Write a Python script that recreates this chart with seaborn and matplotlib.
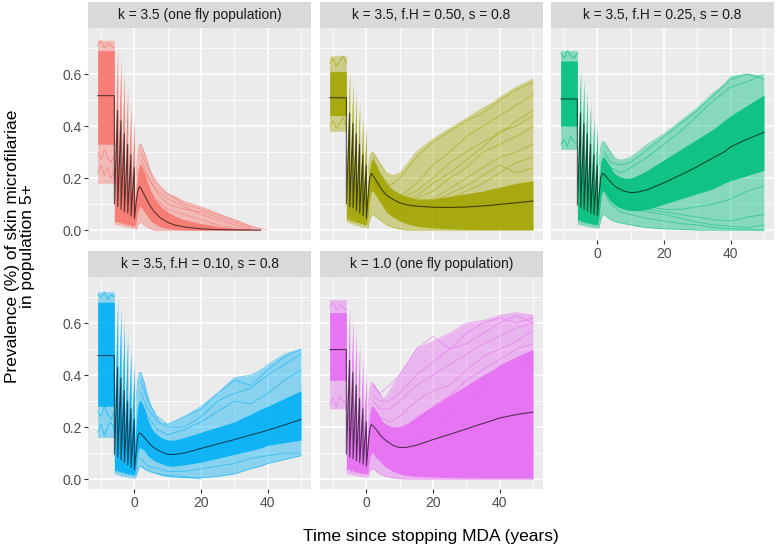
import numpy as np
import pandas as pd
import matplotlib
matplotlib.use("Agg")
import matplotlib.pyplot as plt
import seaborn as sns

# ---------------- data ----------------
PANEL_TITLES = ["k = 3.5 (one fly population)", "k = 3.5, f.H = 0.50, s = 0.8",
                "k = 3.5, f.H = 0.25, s = 0.8", "k = 3.5, f.H = 0.10, s = 0.8",
                "k = 1.0 (one fly population)"]
PANEL_COLORS = ["#F8766D", "#A3A500", "#00BF7D", "#00B0F6", "#E76BF3"]

T_START = -11
MDA_ROUNDS = [-6, -5, -4, -3, -2, -1, 0]
POST_T = [0.5, 1, 1.5, 2, 3, 4, 5, 6, 8, 10, 12, 15, 20, 25, 30, 35, 38, 40, 45, 50]
TRAJ_T = [2, 4, 7, 10, 15, 20, 25, 30, 35, 40, 45, 50]
PRE_T = [-11, -10, -9, -8, -7, -6]
NA = np.nan

# mean trajectory: pre-MDA level, value right after each round, value just before rounds -5..0, post-MDA
MEAN_PRE = [0.517, 0.509, 0.504, 0.475, 0.498]
MEAN_TROUGH = [
    [0.10, 0.09, 0.08, 0.07, 0.065, 0.055, 0.045],
    [0.10, 0.09, 0.085, 0.075, 0.065, 0.055, 0.045],
    [0.096, 0.088, 0.08, 0.072, 0.065, 0.06, 0.055],
    [0.094, 0.085, 0.075, 0.065, 0.055, 0.045, 0.035],
    [0.095, 0.085, 0.078, 0.07, 0.063, 0.057, 0.05],
]
MEAN_PEAK = [
    [0.46, 0.42, 0.37, 0.33, 0.29, 0.24],
    [0.45, 0.41, 0.37, 0.33, 0.29, 0.25],
    [0.45, 0.41, 0.37, 0.33, 0.29, 0.25],
    [0.43, 0.39, 0.34, 0.30, 0.27, 0.23],
    [0.457, 0.41, 0.36, 0.31, 0.27, 0.22],
]
MEAN_POST = [
    [0.10, 0.15, 0.167, 0.16, 0.135, 0.11, 0.088, 0.07, 0.045, 0.03, 0.02, 0.012, 0.005, 0.002, 0.001, 0.0005, 0.0, NA, NA, NA],
    [0.13, 0.20, 0.218, 0.21, 0.19, 0.168, 0.15, 0.135, 0.118, 0.105, 0.098, 0.092, 0.088, 0.087, 0.089, 0.093, 0.096, 0.099, 0.105, 0.112],
    [0.13, 0.20, 0.218, 0.215, 0.20, 0.185, 0.172, 0.162, 0.15, 0.144, 0.146, 0.155, 0.182, 0.212, 0.244, 0.28, 0.30, 0.32, 0.35, 0.376],
    [0.10, 0.16, 0.177, 0.175, 0.16, 0.145, 0.13, 0.12, 0.105, 0.095, 0.095, 0.10, 0.118, 0.135, 0.152, 0.17, 0.18, 0.188, 0.208, 0.229],
    [0.12, 0.19, 0.21, 0.205, 0.19, 0.172, 0.158, 0.147, 0.13, 0.121, 0.122, 0.13, 0.152, 0.172, 0.193, 0.214, 0.226, 0.235, 0.248, 0.258],
]

# outer envelope of all simulation runs
OUT_PRE_LO = [0.18, 0.38, 0.31, 0.16, 0.27]
OUT_PRE_HI = [0.73, 0.67, 0.69, 0.72, 0.69]
OUT_TROUGH_LO = [
    [0.02, 0.02, 0.015, 0.01, 0.01, 0.005, 0.005],
    [0.03, 0.025, 0.02, 0.015, 0.012, 0.01, 0.008],
    [0.02, 0.018, 0.015, 0.012, 0.01, 0.008, 0.006],
    [0.02, 0.015, 0.01, 0.01, 0.005, 0.005, 0.0],
    [0.02, 0.018, 0.015, 0.012, 0.01, 0.008, 0.005],
]
OUT_TROUGH_HI = [
    [0.25, 0.22, 0.20, 0.18, 0.16, 0.14, 0.12],
    [0.20, 0.18, 0.16, 0.15, 0.13, 0.12, 0.10],
    [0.21, 0.19, 0.17, 0.15, 0.14, 0.12, 0.11],
    [0.25, 0.23, 0.21, 0.19, 0.17, 0.15, 0.14],
    [0.22, 0.20, 0.18, 0.16, 0.15, 0.13, 0.12],
]
OUT_PEAK_LO = [
    [0.02, 0.018, 0.015, 0.012, 0.01, 0.008],
    [0.03, 0.025, 0.02, 0.016, 0.012, 0.01],
    [0.022, 0.018, 0.015, 0.012, 0.01, 0.008],
    [0.018, 0.014, 0.011, 0.009, 0.006, 0.004],
    [0.02, 0.017, 0.014, 0.012, 0.01, 0.007],
]
OUT_PEAK_HI = [
    [0.72, 0.68, 0.62, 0.56, 0.50, 0.44],
    [0.62, 0.58, 0.54, 0.50, 0.45, 0.41],
    [0.63, 0.59, 0.54, 0.50, 0.45, 0.41],
    [0.71, 0.67, 0.62, 0.57, 0.52, 0.47],
    [0.67, 0.63, 0.58, 0.53, 0.48, 0.43],
]
OUT_POST_LO = [
    [0.0, 0.02, 0.03, 0.03, 0.02, 0.01, 0.005, 0, 0, 0, 0, 0, 0, 0, 0, 0, 0, NA, NA, NA],
    [0.01, 0.04, 0.06, 0.06, 0.05, 0.04, 0.03, 0.02, 0.01, 0.005, 0, 0, 0, 0, 0, 0, 0, 0, 0, 0],
    [0.01, 0.04, 0.06, 0.06, 0.05, 0.04, 0.035, 0.03, 0.025, 0.02, 0.015, 0.01, 0.005, 0.003, 0, 0, 0, 0, 0, 0],
    [0.01, 0.03, 0.05, 0.05, 0.04, 0.035, 0.03, 0.025, 0.015, 0.01, 0.008, 0.005, 0.005, 0.01, 0.02, 0.04, 0.05, 0.06, 0.075, 0.09],
    [0.01, 0.03, 0.04, 0.04, 0.03, 0.02, 0.015, 0.01, 0.005, 0.002, 0, 0, 0, 0, 0, 0, 0, 0, 0, 0],
]
OUT_POST_HI = [
    [0.20, 0.30, 0.33, 0.33, 0.30, 0.26, 0.22, 0.19, 0.16, 0.14, 0.13, 0.11, 0.09, 0.065, 0.04, 0.015, 0.0, NA, NA, NA],
    [0.22, 0.28, 0.30, 0.30, 0.28, 0.26, 0.24, 0.22, 0.21, 0.22, 0.25, 0.30, 0.35, 0.39, 0.43, 0.47, 0.49, 0.51, 0.55, 0.58],
    [0.25, 0.32, 0.34, 0.34, 0.32, 0.30, 0.28, 0.27, 0.27, 0.28, 0.30, 0.33, 0.37, 0.42, 0.47, 0.53, 0.56, 0.59, 0.60, 0.59],
    [0.30, 0.38, 0.41, 0.41, 0.37, 0.32, 0.28, 0.25, 0.22, 0.21, 0.22, 0.24, 0.28, 0.33, 0.39, 0.40, 0.42, 0.44, 0.48, 0.50],
    [0.28, 0.34, 0.37, 0.37, 0.35, 0.33, 0.31, 0.32, 0.36, 0.40, 0.44, 0.50, 0.53, 0.56, 0.60, 0.61, 0.62, 0.63, 0.64, 0.63],
]

# dense core of the runs
CORE_PRE_LO = [0.33, 0.44, 0.40, 0.28, 0.38]
CORE_PRE_HI = [0.69, 0.61, 0.65, 0.68, 0.64]
CORE_TROUGH_LO = [
    [0.03, 0.03, 0.025, 0.02, 0.02, 0.015, 0.012],
    [0.04, 0.035, 0.03, 0.028, 0.025, 0.02, 0.018],
    [0.035, 0.03, 0.028, 0.025, 0.022, 0.02, 0.018],
    [0.03, 0.028, 0.025, 0.02, 0.018, 0.015, 0.012],
    [0.035, 0.03, 0.028, 0.025, 0.022, 0.02, 0.018],
]
CORE_TROUGH_HI = [
    [0.22, 0.20, 0.18, 0.16, 0.14, 0.13, 0.11],
    [0.18, 0.16, 0.15, 0.13, 0.12, 0.11, 0.09],
    [0.19, 0.17, 0.15, 0.14, 0.12, 0.11, 0.10],
    [0.22, 0.20, 0.18, 0.17, 0.15, 0.13, 0.12],
    [0.20, 0.18, 0.16, 0.15, 0.13, 0.12, 0.11],
]
CORE_PEAK_LO = [
    [0.035, 0.03, 0.028, 0.024, 0.02, 0.016],
    [0.045, 0.04, 0.035, 0.03, 0.026, 0.022],
    [0.04, 0.035, 0.03, 0.027, 0.024, 0.02],
    [0.035, 0.03, 0.027, 0.023, 0.02, 0.016],
    [0.04, 0.035, 0.03, 0.027, 0.024, 0.02],
]
CORE_PEAK_HI = [
    [0.69, 0.65, 0.59, 0.53, 0.47, 0.41],
    [0.60, 0.56, 0.52, 0.48, 0.43, 0.39],
    [0.61, 0.57, 0.52, 0.48, 0.43, 0.39],
    [0.68, 0.64, 0.59, 0.54, 0.49, 0.44],
    [0.65, 0.61, 0.56, 0.51, 0.46, 0.41],
]
CORE_POST_LO = [
    [0.03, 0.07, 0.09, 0.09, 0.07, 0.05, 0.035, 0.025, 0.012, 0.006, 0.003, 0.001, 0, 0, 0, 0, 0, NA, NA, NA],
    [0.05, 0.12, 0.15, 0.15, 0.13, 0.11, 0.09, 0.07, 0.05, 0.035, 0.025, 0.015, 0.008, 0.005, 0.003, 0.002, 0.002, 0.002, 0.002, 0.002],
    [0.05, 0.12, 0.15, 0.15, 0.13, 0.11, 0.10, 0.09, 0.08, 0.075, 0.075, 0.08, 0.10, 0.12, 0.14, 0.16, 0.18, 0.19, 0.21, 0.23],
    [0.04, 0.10, 0.12, 0.12, 0.11, 0.09, 0.08, 0.07, 0.06, 0.05, 0.05, 0.055, 0.065, 0.08, 0.095, 0.11, 0.12, 0.13, 0.14, 0.15],
    [0.03, 0.08, 0.10, 0.10, 0.08, 0.07, 0.055, 0.045, 0.03, 0.02, 0.015, 0.01, 0.008, 0.006, 0.005, 0.004, 0.004, 0.004, 0.004, 0.004],
]
CORE_POST_HI = [
    [0.14, 0.22, 0.25, 0.25, 0.22, 0.18, 0.15, 0.12, 0.09, 0.07, 0.055, 0.04, 0.025, 0.015, 0.007, 0.003, 0.0, NA, NA, NA],
    [0.17, 0.24, 0.27, 0.27, 0.25, 0.22, 0.20, 0.18, 0.155, 0.14, 0.13, 0.12, 0.12, 0.13, 0.14, 0.15, 0.16, 0.165, 0.18, 0.19],
    [0.18, 0.26, 0.28, 0.28, 0.26, 0.24, 0.22, 0.21, 0.20, 0.20, 0.21, 0.23, 0.27, 0.31, 0.35, 0.39, 0.42, 0.44, 0.48, 0.52],
    [0.20, 0.28, 0.30, 0.30, 0.27, 0.23, 0.20, 0.18, 0.16, 0.15, 0.15, 0.16, 0.18, 0.20, 0.22, 0.25, 0.27, 0.28, 0.31, 0.34],
    [0.18, 0.25, 0.28, 0.28, 0.26, 0.24, 0.22, 0.21, 0.20, 0.20, 0.21, 0.24, 0.28, 0.32, 0.36, 0.40, 0.42, 0.44, 0.47, 0.50],
]

# a few pre-MDA runs that are visible as separate lines (at PRE_T)
PRE_RUNS = [
    [[0.22, 0.25, 0.21, 0.24, 0.20, 0.23], [0.30, 0.27, 0.31, 0.28, 0.26, 0.29], [0.71, 0.73, 0.70, 0.72, 0.71, 0.70]],
    [[0.40, 0.42, 0.39, 0.41, 0.43, 0.40], [0.64, 0.66, 0.63, 0.65, 0.67, 0.64]],
    [[0.33, 0.35, 0.32, 0.36, 0.34, 0.33], [0.68, 0.66, 0.69, 0.67, 0.66, 0.68]],
    [[0.18, 0.21, 0.17, 0.20, 0.22, 0.19], [0.26, 0.24, 0.28, 0.25, 0.23, 0.26], [0.71, 0.70, 0.72, 0.69, 0.71, 0.70]],
    [[0.29, 0.31, 0.28, 0.32, 0.30, 0.29], [0.66, 0.68, 0.65, 0.67, 0.66, 0.65]],
]

# a few individual runs that stand out from the bundle (at TRAJ_T)
RUNS = [
    [[0.30, 0.24, 0.18, 0.14, 0.10, 0.08, 0.06, 0.04, 0.015, 0.0, NA, NA],
     [0.25, 0.20, 0.15, 0.12, 0.09, 0.06, 0.04, 0.02, 0.005, NA, NA, NA],
     [0.22, 0.16, 0.11, 0.08, 0.06, 0.04, 0.02, 0.01, 0.0, NA, NA, NA],
     [0.27, 0.21, 0.14, 0.10, 0.08, 0.07, 0.05, 0.03, 0.01, NA, NA, NA]],
    [[0.28, 0.22, 0.17, 0.20, 0.28, 0.34, 0.38, 0.42, 0.45, 0.50, 0.54, 0.57],
     [0.25, 0.18, 0.13, 0.13, 0.18, 0.25, 0.30, 0.36, 0.40, 0.44, 0.48, 0.52],
     [0.22, 0.16, 0.12, 0.12, 0.15, 0.20, 0.26, 0.30, 0.34, 0.37, 0.42, 0.46],
     [0.22, 0.15, 0.11, 0.10, 0.12, 0.15, 0.20, 0.24, 0.30, 0.33, 0.36, 0.40],
     [0.20, 0.14, 0.10, 0.08, 0.10, 0.12, 0.16, 0.20, 0.24, 0.28, 0.30, 0.33],
     [0.20, 0.13, 0.09, 0.07, 0.08, 0.10, 0.12, 0.15, 0.18, 0.22, 0.26, 0.28],
     [0.21, 0.15, 0.12, 0.11, 0.13, 0.18, 0.22, 0.27, 0.32, 0.38, 0.40, 0.44],
     [0.19, 0.13, 0.09, 0.08, 0.09, 0.11, 0.14, 0.17, 0.21, 0.25, 0.22, 0.24]],
    [[0.30, 0.26, 0.25, 0.26, 0.31, 0.36, 0.41, 0.46, 0.52, 0.58, 0.60, 0.58],
     [0.28, 0.24, 0.22, 0.24, 0.28, 0.33, 0.38, 0.44, 0.50, 0.55, 0.57, 0.60],
     [0.15, 0.10, 0.07, 0.06, 0.045, 0.035, 0.025, 0.02, 0.01, 0.005, 0.002, 0.0],
     [0.20, 0.14, 0.10, 0.09, 0.08, 0.07, 0.06, 0.05, 0.04, 0.035, 0.05, 0.06],
     [0.18, 0.13, 0.11, 0.10, 0.09, 0.08, 0.08, 0.09, 0.10, 0.12, 0.15, 0.17],
     [0.17, 0.12, 0.09, 0.08, 0.07, 0.06, 0.045, 0.03, 0.02, 0.015, 0.01, 0.02]],
    [[0.38, 0.30, 0.24, 0.21, 0.24, 0.27, 0.33, 0.38, 0.36, 0.42, 0.47, 0.50],
     [0.33, 0.27, 0.22, 0.20, 0.20, 0.24, 0.30, 0.33, 0.35, 0.40, 0.44, 0.48],
     [0.30, 0.24, 0.19, 0.17, 0.19, 0.22, 0.26, 0.30, 0.29, 0.33, 0.38, 0.42],
     [0.05, 0.03, 0.02, 0.015, 0.01, 0.0, NA, NA, NA, NA, NA, NA],
     [0.08, 0.05, 0.04, 0.03, 0.03, 0.04, 0.05, 0.06, 0.08, 0.09, 0.10, 0.10]],
    [[0.36, 0.33, 0.36, 0.40, 0.50, 0.55, 0.50, 0.56, 0.60, 0.62, 0.60, 0.62],
     [0.32, 0.30, 0.30, 0.33, 0.40, 0.45, 0.50, 0.52, 0.56, 0.60, 0.63, 0.60],
     [0.30, 0.27, 0.27, 0.30, 0.36, 0.40, 0.44, 0.48, 0.52, 0.55, 0.58, 0.60],
     [0.25, 0.22, 0.20, 0.20, 0.22, 0.28, 0.32, 0.38, 0.42, 0.46, 0.50, 0.52],
     [0.28, 0.24, 0.22, 0.24, 0.30, 0.34, 0.36, 0.42, 0.47, 0.50, 0.53, 0.57],
     [0.22, 0.18, 0.15, 0.14, 0.16, 0.20, 0.25, 0.30, 0.34, 0.38, 0.43, 0.46]],
]

X_TICKS = [0, 20, 40]
Y_TICKS = [0.0, 0.2, 0.4, 0.6]
Y_TICK_LABELS = ["0.0", "0.2", "0.4", "0.6"]
X_LABEL = "Time since stopping MDA (years)"
Y_LABEL = "Prevalence (%) of skin microfilariae\nin population 5+"


def series_times():
    t = [T_START, MDA_ROUNDS[0]]
    for i, r in enumerate(MDA_ROUNDS):
        t.append(r + 0.02)
        if i + 1 < len(MDA_ROUNDS):
            t.append(MDA_ROUNDS[i + 1])
    return np.array(t + POST_T, dtype=float)


def series_values(pre, troughs, peaks, post):
    v = [pre, pre]
    for i in range(len(troughs)):
        v.append(troughs[i])
        if i < len(peaks):
            v.append(peaks[i])
    return np.array(v + list(post), dtype=float)


# ---------------- style ----------------
sns.set_theme(style="darkgrid", rc={
    "axes.facecolor": "#EBEBEB", "grid.color": "white", "figure.facecolor": "white",
})
plt.rcParams["font.family"] = ["Liberation Sans", "DejaVu Sans"]

W, H = 777, 551
fig = plt.figure(figsize=(W / 100, H / 100), dpi=100)

COL_X = [88, 320, 551]
PANEL_W = 223
ROW_TOP = [28, 277]
PANEL_H = 212
STRIP_H = 26

t_all = series_times()
post_mask = t_all >= 0.5

for p in range(5):
    row, col = divmod(p, 3)
    x0, top = COL_X[col], ROW_TOP[row]
    ax = fig.add_axes([x0 / W, 1 - (top + PANEL_H) / H, PANEL_W / W, PANEL_H / H])
    sax = fig.add_axes([x0 / W, 1 - top / H, PANEL_W / W, STRIP_H / H])
    sax.set_facecolor("#D9D9D9")
    sax.set_xticks([]); sax.set_yticks([])
    sax.grid(False)
    for s in sax.spines.values():
        s.set_visible(False)
    sax.text(0.5, 0.5, PANEL_TITLES[p], ha="center", va="center", fontsize=9.9,
             color="#1A1A1A", transform=sax.transAxes)

    color = PANEL_COLORS[p]
    o_lo = series_values(OUT_PRE_LO[p], OUT_TROUGH_LO[p], OUT_PEAK_LO[p], OUT_POST_LO[p])
    o_hi = series_values(OUT_PRE_HI[p], OUT_TROUGH_HI[p], OUT_PEAK_HI[p], OUT_POST_HI[p])
    c_lo = series_values(CORE_PRE_LO[p], CORE_TROUGH_LO[p], CORE_PEAK_LO[p], CORE_POST_LO[p])
    c_hi = series_values(CORE_PRE_HI[p], CORE_TROUGH_HI[p], CORE_PEAK_HI[p], CORE_POST_HI[p])
    ax.fill_between(t_all, o_lo, o_hi, color=color, alpha=0.42, lw=0)
    ax.fill_between(t_all, c_lo, c_hi, color=color, alpha=0.88, lw=0)
    # thin outline of the post-MDA envelope, like the outermost runs
    for edge in (o_lo, o_hi):
        d = pd.DataFrame({"t": t_all[post_mask], "v": edge[post_mask]})
        sns.lineplot(data=d, x="t", y="v", color=color, alpha=0.6, lw=0.5,
                     estimator=None, sort=False, ax=ax)

    for run in PRE_RUNS[p]:
        d = pd.DataFrame({"t": PRE_T, "v": run})
        sns.lineplot(data=d, x="t", y="v", color=color, alpha=0.7, lw=0.6,
                     estimator=None, sort=False, ax=ax)
    for run in RUNS[p]:
        d = pd.DataFrame({"t": TRAJ_T, "v": run})
        sns.lineplot(data=d, x="t", y="v", color=color, alpha=0.6, lw=0.6,
                     estimator=None, sort=False, ax=ax)

    mean_v = series_values(MEAN_PRE[p], MEAN_TROUGH[p], MEAN_PEAK[p], MEAN_POST[p])
    dm = pd.DataFrame({"t": t_all, "v": mean_v})
    sns.lineplot(data=dm, x="t", y="v", color="black", alpha=0.62, lw=0.8,
                 estimator=None, sort=False, ax=ax)

    ax.set_xlim(-13.9, 53.0)
    ax.set_ylim(-0.038, 0.777)
    ax.set_xticks(X_TICKS)
    ax.set_xticks([-10, 10, 30, 50], minor=True)
    ax.set_yticks(Y_TICKS)
    ax.set_yticks([0.1, 0.3, 0.5, 0.7], minor=True)
    ax.grid(which="major", color="white", lw=1.1)
    ax.grid(which="minor", color="white", lw=0.55)
    ax.set_axisbelow(True)
    ax.set_xlabel(""); ax.set_ylabel("")
    for s in ax.spines.values():
        s.set_visible(False)
    show_x = (row == 1) or (col == 2)
    show_y = (col == 0)
    ax.tick_params(which="major", length=3.2, width=0.8, color="#333333",
                   labelsize=10, labelcolor="#4D4D4D", pad=1.5,
                   bottom=show_x, labelbottom=show_x, left=show_y, labelleft=show_y)
    ax.tick_params(which="minor", length=0, bottom=False, left=False)
    if show_y:
        ax.set_yticklabels(Y_TICK_LABELS)

fig.text(431 / W, 1 - 537 / H, X_LABEL, ha="center", va="center", fontsize=12.5, color="black")
fig.text(20 / W, 1 - 246 / H, Y_LABEL, ha="center", va="center", rotation=90,
         fontsize=12.5, color="black", linespacing=1.05, multialignment="center")

fig.savefig("out.png", dpi=100)
